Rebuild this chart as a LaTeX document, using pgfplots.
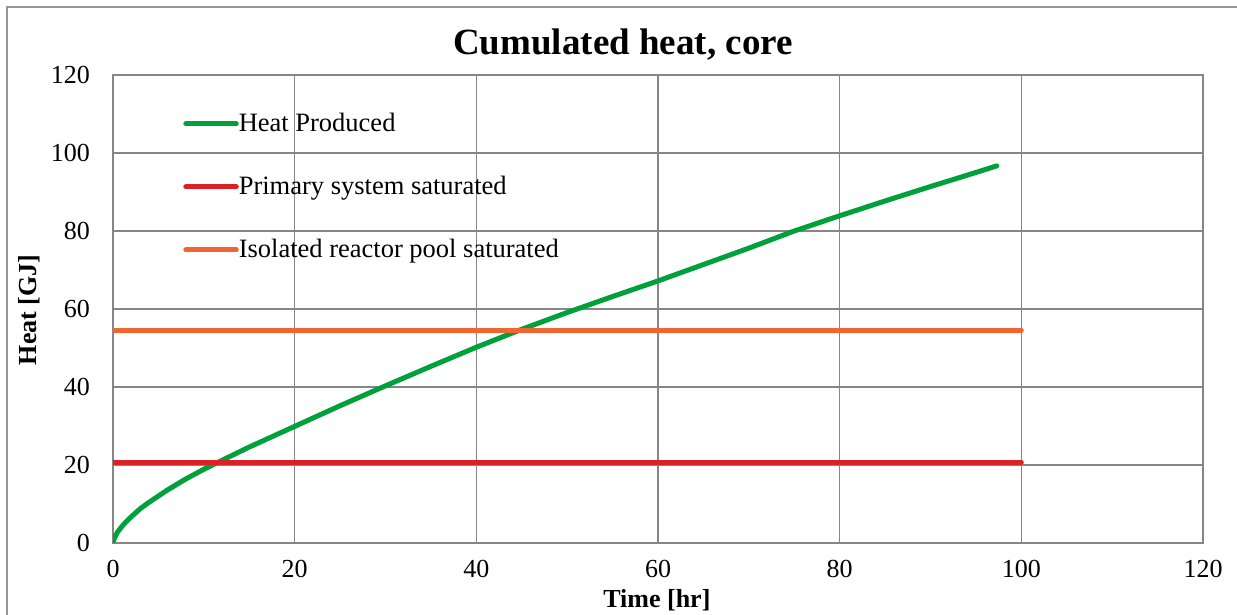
\documentclass[border=0pt]{standalone}
\usepackage{fontspec}
\setmainfont{Liberation Serif}
\usepackage{pgfplots}
\pgfplotsset{compat=1.18}
\definecolor{cgreen}{RGB}{0,160,58}
\definecolor{cred}{RGB}{218,33,38}
\definecolor{corange}{RGB}{240,101,48}
\definecolor{cgrid}{RGB}{134,134,134}
\definecolor{cframe}{RGB}{150,150,150}
\begin{document}
\fontsize{26bp}{31bp}\selectfont
\begin{tikzpicture}
\useasboundingbox (0,0) rectangle (1237bp,615bp);
\draw[line width=2bp, cframe] (7bp,0bp) -- (7bp,608bp) -- (1237bp,608bp);
\begin{axis}[
  at={(113bp,72bp)}, anchor=south west,
  scale only axis, width=1090bp, height=468bp,
  xmin=0, xmax=120, ymin=0, ymax=120,
  xtick={0,20,...,120}, ytick={0,20,...,120},
  major tick length=0pt,
  grid=major,
  grid style={line width=1.6bp, cgrid},
  axis line style={line width=1.6bp, cgrid},
  /pgf/number format/assume math mode=true,
  tick label style={font=\fontsize{26bp}{31bp}\selectfont},
  yticklabel style={inner sep=0pt, anchor=east, xshift=-23bp},
  xticklabel style={inner sep=0pt, anchor=north, yshift=-17bp},
  title={Cumulated heat, core},
  title style={font=\fontsize{37bp}{44bp}\selectfont\bfseries, at={(axis description cs:0.4679,1.032)}, anchor=base, inner sep=0pt},
  xlabel={Time [hr]},
  xlabel style={font=\fontsize{26bp}{31bp}\selectfont\bfseries, at={(axis description cs:0.499,-0.1368)}, anchor=base, inner sep=0pt},
  ylabel={Heat [GJ]},
  ylabel style={font=\fontsize{26bp}{31bp}\selectfont\bfseries, at={(axis description cs:-0.0771,0.498)}, anchor=center, inner sep=0pt},
  legend cell align=left,
  legend image code/.code={\draw[#1, line cap=round] (2.5bp,1bp) -- (53bp,1bp);},
  legend style={draw=none, fill=none, inner sep=0pt, column sep=0bp, row sep=37bp,
    font=\fontsize{26.5bp}{31bp}\selectfont,
    nodes={inner xsep=0pt, inner ysep=0pt, text height=20bp, text depth=6bp},
    at={(axis description cs:0.0643,0.9216)}, anchor=north west},
]
\addplot[line width=5bp, cgreen, line cap=round, line join=round] coordinates {
(0,0) (0.1,0.9) (0.25,1.7) (0.5,2.8) (1,4.3) (1.5,5.6) (2,6.7) (3,8.8) (4,10.5)
(6,13.6) (8,16.4) (10,18.9) (12,21.2) (15,24.6) (20,29.9) (25,35.2) (30,40.3)
(35,45.3) (40,50.2) (45,54.8) (50,59.1) (55,63.2) (60,67.2) (65,71.4) (70,75.6)
(75,80.0) (80,83.9) (85,87.7) (90,91.4) (95,95.0) (97.3,96.7)
};
\addlegendentry{Heat Produced}
\addplot[line width=5bp, cred, line cap=round] coordinates {(0,20.7) (100,20.7)};
\addlegendentry{Primary system saturated}
\addplot[line width=5bp, corange, line cap=round] coordinates {(0,54.6) (100,54.6)};
\addlegendentry{Isolated reactor pool saturated}
\end{axis}
\end{tikzpicture}
\end{document}
